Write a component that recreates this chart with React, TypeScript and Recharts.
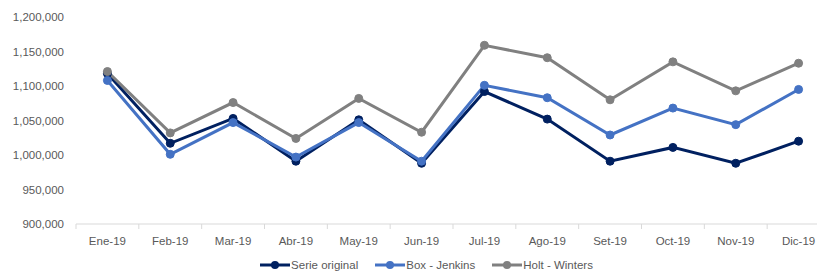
import { LineChart, Line, XAxis, YAxis } from 'recharts'

const MONTHS = ['Ene-19', 'Feb-19', 'Mar-19', 'Abr-19', 'May-19', 'Jun-19', 'Jul-19', 'Ago-19', 'Set-19', 'Oct-19', 'Nov-19', 'Dic-19']
const SERIE_ORIGINAL = [1118000, 1017000, 1053000, 991000, 1051000, 988000, 1092000, 1052000, 991000, 1011000, 988000, 1020000]
const BOX_JENKINS = [1108000, 1001000, 1047000, 997000, 1047000, 991000, 1101000, 1083000, 1029000, 1068000, 1044000, 1095000]
const HOLT_WINTERS = [1121000, 1032000, 1076000, 1024000, 1082000, 1033000, 1159000, 1141000, 1080000, 1135000, 1093000, 1133000]
const Y_TICKS = [900000, 950000, 1000000, 1050000, 1100000, 1150000, 1200000]

const SERIES = [
  { key: 'original', name: 'Serie original', color: '#002060' },
  { key: 'box', name: 'Box - Jenkins', color: '#4472C4' },
  { key: 'holt', name: 'Holt - Winters', color: '#808080' },
]

const data = MONTHS.map((m, i) => ({
  month: m,
  original: SERIE_ORIGINAL[i],
  box: BOX_JENKINS[i],
  holt: HOLT_WINTERS[i],
}))

const FONT = '"Liberation Sans", Arial, sans-serif'
const TEXT = '#595959'

function MonthTick(props: any) {
  const { x, y, payload, width, visibleTicksCount, index } = props
  const band = width / visibleTicksCount
  const top = y - 8
  return (
    <g>
      <line x1={x - band / 2} x2={x - band / 2} y1={top} y2={top + 5} stroke="#d9d9d9" />
      {index === visibleTicksCount - 1 && (
        <line x1={x + band / 2} x2={x + band / 2} y1={top} y2={top + 5} stroke="#d9d9d9" />
      )}
      <text x={x} y={top + 21} textAnchor="middle" fill={TEXT} fontSize={11.5} fontFamily={FONT}>
        {payload.value}
      </text>
    </g>
  )
}

function LegendContent() {
  return (
    <div style={{ display: 'flex', justifyContent: 'center', gap: 17, fontFamily: FONT, fontSize: 11.5, color: TEXT, paddingLeft: 36 }}>
      {SERIES.map((s) => (
        <div key={s.key} style={{ display: 'flex', alignItems: 'center' }}>
          <svg width={30} height={10} style={{ marginRight: 1 }}>
            <line x1={0} x2={30} y1={5} y2={5} stroke={s.color} strokeWidth={3} />
            <circle cx={15} cy={5} r={4} fill={s.color} />
          </svg>
          <span>{s.name}</span>
        </div>
      ))}
    </div>
  )
}

export default function App() {
  return (
    <div style={{ position: 'absolute', left: 0, top: 0, width: 817, height: 276, overflow: 'hidden', background: '#fff' }}>
      <LineChart width={840} height={276} data={data} margin={{ top: 17, right: 10, bottom: 22, left: 0 }}>
        <XAxis
          dataKey="month"
          scale="band"
          axisLine={{ stroke: '#d9d9d9' }}
          tickLine={false}
          height={30}
          interval={0}
          tick={<MonthTick />}
        />
        <YAxis
          domain={[900000, 1200000]}
          ticks={Y_TICKS}
          width={76}
          axisLine={false}
          tickLine={false}
          tickSize={0}
          tickMargin={12}
          tick={{ fill: TEXT, fontSize: 11.5, fontFamily: FONT }}
          tickFormatter={(v: number) => v.toLocaleString('en-US')}
        />
        {SERIES.map((s) => (
          <Line
            key={s.key}
            dataKey={s.key}
            name={s.name}
            stroke={s.color}
            strokeWidth={3}
            dot={{ r: 4, fill: s.color, stroke: s.color, strokeWidth: 1 }}
            isAnimationActive={false}
          />
        ))}
      </LineChart>
      <div style={{ position: 'absolute', left: 0, width: 817, top: 259 }}>
        <LegendContent />
      </div>
    </div>
  )
}
